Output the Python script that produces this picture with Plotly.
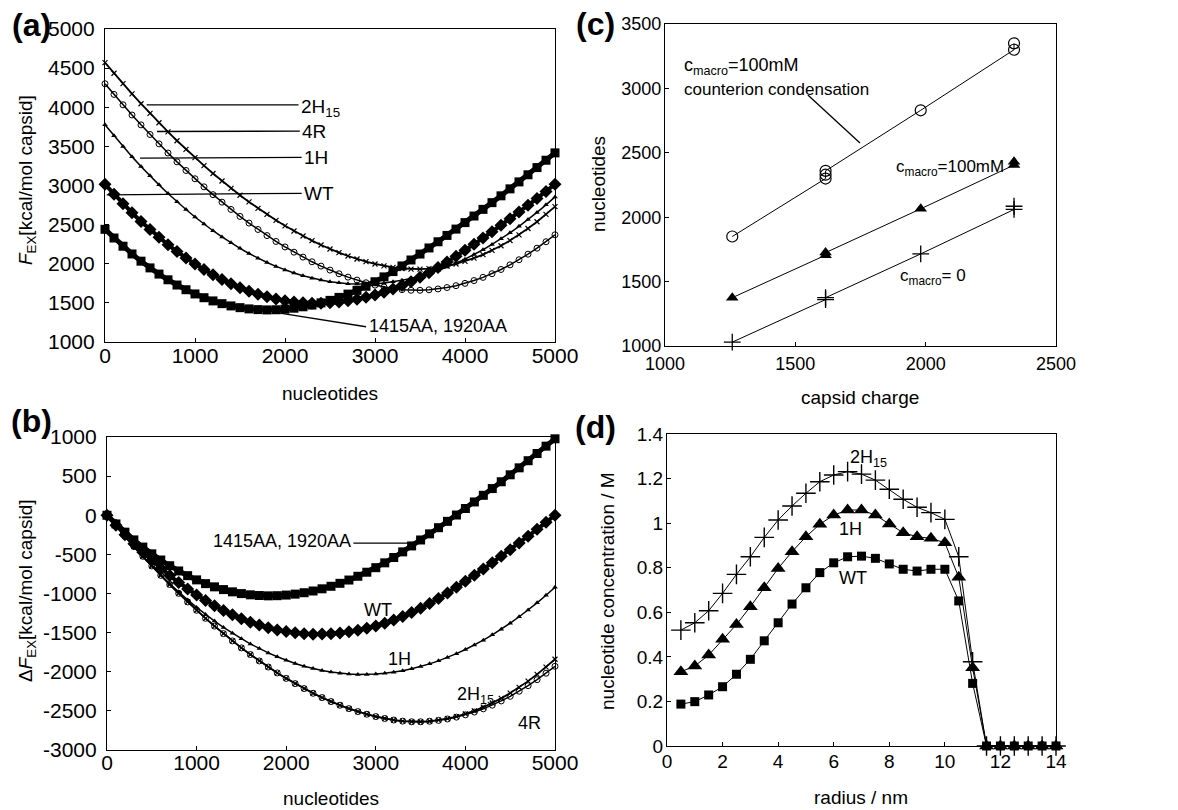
import plotly.graph_objects as go

FONT = "Liberation Sans, Arial, Helvetica, sans-serif"

# ---------------- data ----------------
nucleotides = list(range(0, 5001, 100))

# panel (a): F_EX [kcal/mol capsid]
fex_1415aa = [2440, 2329, 2224, 2125, 2033, 1947, 1868, 1795, 1728, 1668,
              1614, 1566, 1525, 1490, 1461, 1439, 1423, 1414, 1410, 1412,
              1420, 1432, 1450, 1472, 1500, 1532, 1570, 1612, 1660, 1712,
              1770, 1832, 1900, 1972, 2048, 2124, 2202, 2281, 2362, 2443,
              2526, 2610, 2695, 2781, 2868, 2957, 3046, 3137, 3229, 3323,
              3417]
fex_wt = [3015, 2888, 2767, 2652, 2541, 2437, 2338, 2244, 2156, 2073,
          1996, 1925, 1859, 1798, 1743, 1693, 1649, 1611, 1578, 1550,
          1528, 1512, 1501, 1495, 1496, 1501, 1511, 1526, 1546, 1571,
          1601, 1636, 1676, 1721, 1771, 1826, 1886, 1951, 2021, 2095,
          2171, 2249, 2328, 2409, 2491, 2575, 2660, 2747, 2835, 2924,
          3015]
fex_1h = [3775, 3635, 3499, 3369, 3244, 3124, 3008, 2898, 2793, 2693,
          2597, 2507, 2422, 2342, 2267, 2197, 2131, 2071, 2016, 1966,
          1921, 1881, 1846, 1816, 1791, 1771, 1756, 1745, 1740, 1741,
          1745, 1755, 1770, 1789, 1813, 1842, 1876, 1914, 1958, 2006,
          2059, 2117, 2179, 2247, 2319, 2396, 2478, 2565, 2656, 2753,
          2854]
fex_4r = [4300, 4164, 4031, 3901, 3775, 3652, 3532, 3415, 3302, 3192,
          3086, 2983, 2883, 2787, 2694, 2605, 2520, 2438, 2360, 2285,
          2215, 2148, 2085, 2025, 1970, 1919, 1872, 1829, 1791, 1757,
          1727, 1703, 1683, 1669, 1661, 1661, 1667, 1678, 1696, 1720,
          1749, 1785, 1826, 1873, 1927, 1986, 2051, 2122, 2199, 2281,
          2370]
fex_2h15 = [4570, 4434, 4301, 4171, 4045, 3922, 3802, 3685, 3572, 3462,
            3356, 3253, 3153, 3057, 2964, 2875, 2790, 2708, 2630, 2555,
            2485, 2418, 2355, 2295, 2240, 2189, 2142, 2099, 2061, 2027,
            1997, 1973, 1953, 1939, 1931, 1931, 1937, 1951, 1971, 1997,
            2031, 2071, 2117, 2171, 2230, 2297, 2370, 2450, 2537, 2630,
            2730]

# panel (b): delta F_EX [kcal/mol capsid]
dfex_1415aa = [0, -111, -216, -315, -407, -493, -572, -645, -712, -772,
               -826, -874, -915, -950, -979, -1001, -1017, -1026, -1030, -1028,
               -1020, -1008, -990, -968, -940, -908, -870, -828, -780, -728,
               -670, -608, -540, -468, -392, -316, -238, -159, -78, 3,
               86, 170, 255, 341, 428, 517, 606, 697, 789, 883,
               977]
dfex_wt = [0, -127, -248, -363, -474, -578, -677, -771, -859, -942,
           -1019, -1090, -1156, -1217, -1272, -1322, -1366, -1404, -1437, -1465,
           -1487, -1503, -1514, -1520, -1519, -1514, -1504, -1489, -1469, -1444,
           -1414, -1379, -1339, -1294, -1244, -1189, -1129, -1064, -994, -920,
           -844, -766, -687, -606, -524, -440, -355, -268, -180, -91,
           0]
dfex_1h = [0, -140, -276, -406, -531, -651, -767, -877, -982, -1082,
           -1178, -1268, -1353, -1433, -1508, -1578, -1644, -1704, -1759, -1809,
           -1854, -1894, -1929, -1959, -1984, -2004, -2019, -2030, -2035, -2034,
           -2030, -2020, -2005, -1986, -1962, -1933, -1899, -1861, -1817, -1769,
           -1716, -1658, -1596, -1528, -1456, -1379, -1297, -1210, -1119, -1022,
           -921]
dfex_4r = [0, -136, -269, -399, -525, -648, -768, -885, -998, -1108,
           -1214, -1317, -1417, -1513, -1606, -1695, -1780, -1862, -1940, -2015,
           -2085, -2152, -2215, -2275, -2330, -2381, -2428, -2471, -2509, -2543,
           -2573, -2597, -2617, -2631, -2639, -2639, -2633, -2622, -2604, -2580,
           -2551, -2515, -2474, -2427, -2373, -2314, -2249, -2178, -2101, -2019,
           -1930]
dfex_2h15 = [0, -136, -269, -399, -525, -648, -768, -885, -998, -1108,
             -1214, -1317, -1417, -1513, -1606, -1695, -1780, -1862, -1940, -2015,
             -2085, -2152, -2215, -2275, -2330, -2381, -2428, -2471, -2509, -2543,
             -2573, -2597, -2617, -2631, -2639, -2639, -2633, -2619, -2599, -2573,
             -2539, -2499, -2453, -2399, -2340, -2273, -2200, -2120, -2033, -1940,
             -1840]

# panel (c): nucleotides vs capsid charge
charge_cc = [1258, 1616, 1616, 1616, 1981, 2339, 2339]
nt_cc = [1850, 2300, 2330, 2360, 2830, 3300, 3350]
charge_100 = [1258, 1616, 1616, 1981, 2339, 2339]
nt_100 = [1375, 1705, 1725, 2065, 2405, 2430]
charge_0 = [1258, 1616, 1616, 1981, 2339, 2339]
nt_0 = [1030, 1360, 1375, 1715, 2060, 2085]

# panel (d): nucleotide concentration vs radius
radius = [0.5, 1.0, 1.5, 2.0, 2.5, 3.0, 3.5, 4.0, 4.5, 5.0,
          5.5, 6.0, 6.5, 7.0, 7.5, 8.0, 8.5, 9.0, 9.5, 10.0,
          10.5, 11.0, 11.5, 12.0, 12.5, 13.0, 13.5, 14.0]
conc_2h15 = [0.520, 0.553, 0.607, 0.685, 0.770, 0.849, 0.936, 1.014, 1.077, 1.134,
             1.186, 1.216, 1.231, 1.220, 1.193, 1.152, 1.107, 1.071, 1.047, 1.017,
             0.849, 0.378, 0, 0, 0, 0, 0, 0]
conc_1h = [0.333, 0.359, 0.408, 0.479, 0.545, 0.625, 0.710, 0.797, 0.872, 0.939,
           0.995, 1.036, 1.059, 1.059, 1.036, 0.996, 0.957, 0.939, 0.932, 0.912,
           0.757, 0.351, 0, 0, 0, 0, 0, 0]
conc_wt = [0.188, 0.199, 0.229, 0.266, 0.322, 0.389, 0.472, 0.553, 0.637, 0.710,
           0.778, 0.822, 0.849, 0.852, 0.842, 0.817, 0.793, 0.785, 0.793, 0.793,
           0.651, 0.281, 0, 0, 0, 0, 0, 0]

# tick labels
ticks_a_x = [0, 1000, 2000, 3000, 4000, 5000]
ticks_a_y = [1000, 1500, 2000, 2500, 3000, 3500, 4000, 4500, 5000]
ticks_b_y = [-3000, -2500, -2000, -1500, -1000, -500, 0, 500, 1000]
ticks_c_x = [1000, 1500, 2000, 2500]
ticks_c_y = [1000, 1500, 2000, 2500, 3000, 3500]
ticks_d_x = [0, 2, 4, 6, 8, 10, 12, 14]
ticks_d_y = [0, 0.2, 0.4, 0.6, 0.8, 1.0, 1.2, 1.4]
ticktext_d_y = ["0", "0.2", "0.4", "0.6", "0.8", "1", "1.2", "1.4"]

# ---------------- figure ----------------
W, H = 1178, 810
fig = go.Figure()


def px_x(p):
    return p / W


def px_y(p):
    return 1 - p / H


BLACK = "black"


def curve(x, y, xa, ya, symbol, size, lw=0, linew=1):
    mk = dict(symbol=symbol, size=size, color=BLACK)
    mk["line"] = dict(color=BLACK, width=lw) if lw else dict(width=0)
    return go.Scatter(x=x, y=y, xaxis=xa, yaxis=ya, mode="lines+markers",
                      line=dict(color=BLACK, width=linew), marker=mk,
                      cliponaxis=False, showlegend=False, hoverinfo="skip")


# (a)
fig.add_trace(curve(nucleotides, fex_4r, "x", "y", "circle-open", 6, 1, 1.5))
fig.add_trace(curve(nucleotides, fex_2h15, "x", "y", "x-thin", 5, 1.2, 1.8))
fig.add_trace(curve(nucleotides, fex_1h, "x", "y", "triangle-up", 5, 0, 1.5))
fig.add_trace(curve(nucleotides, fex_wt, "x", "y", "diamond", 10, 0, 4))
fig.add_trace(curve(nucleotides, fex_1415aa, "x", "y", "square", 9, 0, 5))
# (b)
fig.add_trace(curve(nucleotides, dfex_4r, "x2", "y2", "circle-open", 6, 1, 1.5))
fig.add_trace(curve(nucleotides, dfex_2h15, "x2", "y2", "x-thin", 5, 1.2, 1.8))
fig.add_trace(curve(nucleotides, dfex_1h, "x2", "y2", "triangle-up", 5, 0, 1.5))
fig.add_trace(curve(nucleotides, dfex_wt, "x2", "y2", "diamond", 10, 0, 4))
fig.add_trace(curve(nucleotides, dfex_1415aa, "x2", "y2", "square", 9, 0, 5))
# (c)
fig.add_trace(curve(charge_cc, nt_cc, "x3", "y3", "circle-open", 11, 1.2))
fig.add_trace(curve(charge_100, nt_100, "x3", "y3", "triangle-up", 11))
fig.add_trace(curve(charge_0, nt_0, "x3", "y3", "cross-thin", 12, 1.3))
# (d)
fig.add_trace(curve(radius, conc_2h15, "x4", "y4", "cross-thin", 14, 1.4))
fig.add_trace(curve(radius, conc_1h, "x4", "y4", "triangle-up", 13))
fig.add_trace(curve(radius, conc_wt, "x4", "y4", "square", 9))


def neg(v):
    return str(v).replace("\u2212", "-")


def axis(domain, anchor, rng, tickvals, size, ticktext=None, **kw):
    d = dict(domain=domain, anchor=anchor, range=rng,
             tickmode="array", tickvals=tickvals,
             ticktext=ticktext if ticktext else [neg(v) for v in tickvals],
             showline=True, linecolor=BLACK, linewidth=1.2, mirror=True,
             ticks="inside", ticklen=4, tickwidth=1, tickcolor=BLACK,
             showgrid=False, zeroline=False, automargin=False,
             tickfont=dict(family=FONT, size=size, color=BLACK))
    d.update(kw)
    return d


fig.update_layout(
    width=W, height=H,
    margin=dict(l=0, r=0, t=0, b=0, pad=0),
    paper_bgcolor="white", plot_bgcolor="white",
    showlegend=False,
    font=dict(family=FONT, color=BLACK),
    xaxis=axis([px_x(105), px_x(555)], "y", [0, 5000], ticks_a_x, 21, ticklabelstandoff=-5),
    yaxis=axis([px_y(342), px_y(29)], "x", [1000, 5000], ticks_a_y, 21, ticklabelstandoff=5),
    xaxis2=axis([px_x(107), px_x(555)], "y2", [0, 5000], ticks_a_x, 21, ticklabelstandoff=-6),
    yaxis2=axis([px_y(750), px_y(437)], "x2", [-3000, 1000], ticks_b_y, 21, ticklabelstandoff=5),
    xaxis3=axis([px_x(665), px_x(1056)], "y3", [1000, 2500], ticks_c_x, 18, ticklabelstandoff=1),
    yaxis3=axis([px_y(346), px_y(24)], "x3", [1000, 3500], ticks_c_y, 18, ticklabelstandoff=-1),
    xaxis4=axis([px_x(667), px_x(1056)], "y4", [0, 14], ticks_d_x, 19, ticklabelstandoff=-2),
    yaxis4=axis([px_y(746), px_y(434)], "x4", [0, 1.4], ticks_d_y, 19,
                ticktext=ticktext_d_y, ticklabelstandoff=-1),
)

ann = []
shapes = []


def paper_text(text, x, y, size, angle=0, bold=False, xanchor="center"):
    if bold:
        text = "<b>" + text + "</b>"
    ann.append(dict(text=text, x=px_x(x), y=px_y(y), xref="paper", yref="paper",
                    showarrow=False, textangle=angle, xanchor=xanchor, yanchor="middle",
                    font=dict(family=FONT, size=size, color=BLACK)))


def data_text(text, x, y, xr, yr, size, xanchor="left"):
    ann.append(dict(text=text, x=x, y=y, xref=xr, yref=yr, showarrow=False,
                    xanchor=xanchor, yanchor="middle",
                    font=dict(family=FONT, size=size, color=BLACK)))


def leader(x0, y0, x1, y1, xr, yr):
    shapes.append(dict(type="line", x0=x0, y0=y0, x1=x1, y1=y1, xref=xr, yref=yr,
                       line=dict(color=BLACK, width=1.3)))


# panel letters
paper_text("(a)", 31, 25, 32, bold=True)
paper_text("(b)", 31, 421, 32, bold=True)
paper_text("(c)", 595, 24, 32, bold=True)
paper_text("(d)", 595, 427, 32, bold=True)

# axis titles
paper_text("nucleotides", 330, 393, 19)
paper_text("nucleotides", 331, 798, 19)
paper_text("capsid charge", 860, 397, 19)
paper_text("radius / nm", 861, 797, 19)
paper_text("<i>F</i><sub>EX</sub>[kcal/mol capsid]", 27, 180, 19, angle=-90)
paper_text("Δ<i>F</i><sub>EX</sub>[kcal/mol capsid]", 27, 591, 19, angle=-90)
paper_text("nucleotides", 598, 184, 19, angle=-90)
paper_text("nucleotide concentration / M", 607, 591, 19, angle=-90)

# (a) labels
leader(463, 4030, 2150, 4030, "x", "y")
leader(578, 3690, 2165, 3695, "x", "y")
leader(389, 3350, 2185, 3360, "x", "y")
leader(19, 2880, 2185, 2900, "x", "y")
leader(1944, 1370, 2900, 1195, "x", "y")
data_text("2H<sub>15</sub>", 2160, 3985, "x", "y", 19)
data_text("4R", 2170, 3695, "x", "y", 19)
data_text("1H", 2190, 3360, "x", "y", 19)
data_text("WT", 2190, 2900, "x", "y", 19)
data_text("1415AA, 1920AA", 2910, 1200, "x", "y", 18)

# (b) labels
leader(2750, -355, 3415, -355, "x2", "y2")
data_text("1415AA, 1920AA", 2745, -330, "x2", "y2", 18, xanchor="right")
data_text("WT", 3030, -1210, "x2", "y2", 18, xanchor="center")
data_text("1H", 3270, -1840, "x2", "y2", 18, xanchor="center")
data_text("2H<sub>15</sub>", 3880, -2300, "x2", "y2", 18)
data_text("4R", 4720, -2660, "x2", "y2", 18, xanchor="center")

# (c) labels
data_text("c<sub>macro</sub>=100mM", 1064, 3168, "x3", "y3", 18)
data_text("counterion condensation", 1064, 2988, "x3", "y3", 17)
leader(1548, 2949, 1748, 2576, "x3", "y3")
data_text("c<sub>macro</sub>=100mM", 1878, 2385, "x3", "y3", 17)
data_text("c<sub>macro</sub>= 0", 1894, 1536, "x3", "y3", 17)

# (d) labels
data_text("2H<sub>15</sub>", 7.25, 1.29, "x4", "y4", 18, xanchor="center")
data_text("1H", 6.6, 0.975, "x4", "y4", 18, xanchor="center")
data_text("WT", 6.7, 0.755, "x4", "y4", 18, xanchor="center")

fig.update_layout(annotations=ann, shapes=shapes)
fig.write_html("out.html")
